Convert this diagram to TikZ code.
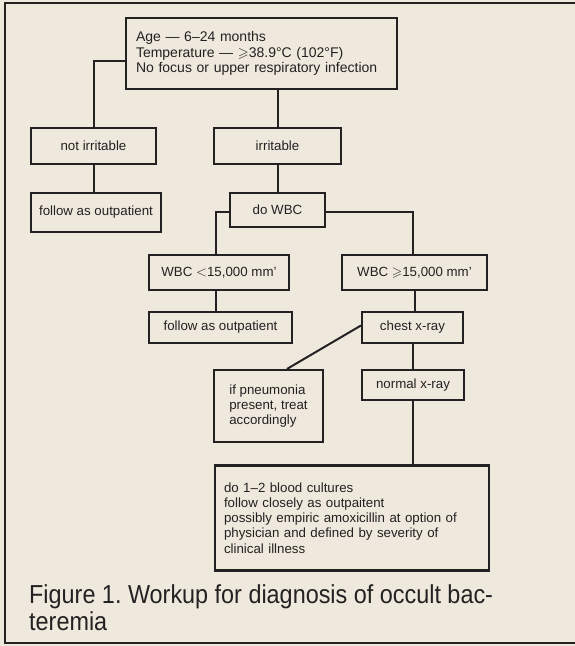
\documentclass[tikz,border=0pt]{standalone}
\usepackage{amssymb}
\usepackage{fontspec}
\setmainfont{Liberation Sans}
\newfontfamily\capfont[FakeStretch = 0.9]{Liberation Sans}
\definecolor{paper}{RGB}{239,233,221}
\definecolor{ink}{RGB}{35,33,33}
\frenchspacing
\begin{document}
\begin{tikzpicture}[x = 1pt, y = -1pt,
        box/.style = {draw = ink, line width = 2.1pt, inner sep = 0pt, align = left,
            font = \fontsize{13.3}{15.2}\selectfont, text = ink},
        wire/.style = {draw = ink, line width = 2pt}]
            \useasboundingbox [fill = paper] (0, 0) rectangle (575, 646);
            \draw [ink, line width = 2pt] (578, 3) -- (5, 3) -- (5, 643) -- (578, 643);
            
            \node [box, minimum width = 271pt, minimum height = 71pt, text width = 251pt, inner xsep = 10pt,
                font = \fontsize{14}{15.6}\selectfont] (start) at (261.5, 53.5)
                {Age --- 6--24 months\\Temperature --- $\geqslant$38.9°C (102°F)\\No focus or upper respiratory infection};
            \node [box, minimum width = 125pt, minimum height = 36pt] (notirr) at (93.5, 146) {not irritable};
            \node [box, minimum width = 127pt, minimum height = 36pt] (irr) at (277.5, 146) {irritable};
            \node [box, minimum width = 130pt, minimum height = 39pt] (outA) at (96, 212.5) {follow as outpatient};
            \node [box, minimum width = 95pt, minimum height = 34pt] (wbc) at (277.5, 210) {do WBC};
            \node [box, minimum width = 140pt, minimum height = 35pt] (low) at (219, 272.5) {WBC $<$15,000 mm’};
            \node [box, minimum width = 145pt, minimum height = 35pt] (high) at (414.5, 272.5) {WBC $\geqslant$15,000 mm’};
            \node [box, minimum width = 143pt, minimum height = 31pt] (outB) at (220.5, 327.5) {follow as outpatient};
            \node [box, minimum width = 101pt, minimum height = 31pt] (chest) at (412.5, 327.5) {chest x-ray};
            \node [box, minimum width = 109pt, minimum height = 72pt] (pneu) at (268.5, 406) {if pneumonia\\present, treat\\accordingly};
            \node [box, minimum width = 102pt, minimum height = 30pt] (normal) at (413, 385) {normal x-ray};
            \node [box, minimum width = 274pt, minimum height = 105pt, text width = 256pt, inner xsep = 9pt] (cult) at (352, 518)
                {do 1--2 blood cultures\\follow closely as outpaitent\\possibly empiric amoxicillin at option of\\physician and defined by severity of\\clinical illness};
            
            \draw [wire] ([yshift = -7.5pt]start.west) -| (notirr.north);
            \draw [wire] (irr.north |- start.south) -- (irr.north);
            \draw [wire] (notirr.south) -- (notirr.south |- outA.north);
            \draw [wire] (irr.south) -- (wbc.north);
            \draw [wire] ([yshift = -2pt]wbc.west) -| ([xshift = -3pt]low.north);
            \draw [wire] ([yshift = -2pt]wbc.east) -| ([xshift = -1.5pt]high.north);
            \draw [wire] ([xshift = -3pt]low.south) -- ([xshift = -3pt]low.south |- outB.north);
            \draw [wire] (high.south) -- (high.south |- chest.north);
            \draw [wire] ([yshift = 2pt]chest.west) -- ([xshift = 18.5pt]pneu.north);
            \draw [wire] (chest.south) -- (chest.south |- normal.north);
            \draw [wire] (normal.south) -- (normal.south |- cult.north);
            
            \node [anchor = base west, align = left, inner sep = 0pt, text = ink,
                font = \capfont\fontsize{26}{27}\selectfont] (caption) at (29, 630)
                {Figure 1. Workup for diagnosis of occult bac-\\teremia};
        \end{tikzpicture}
\end{document}
